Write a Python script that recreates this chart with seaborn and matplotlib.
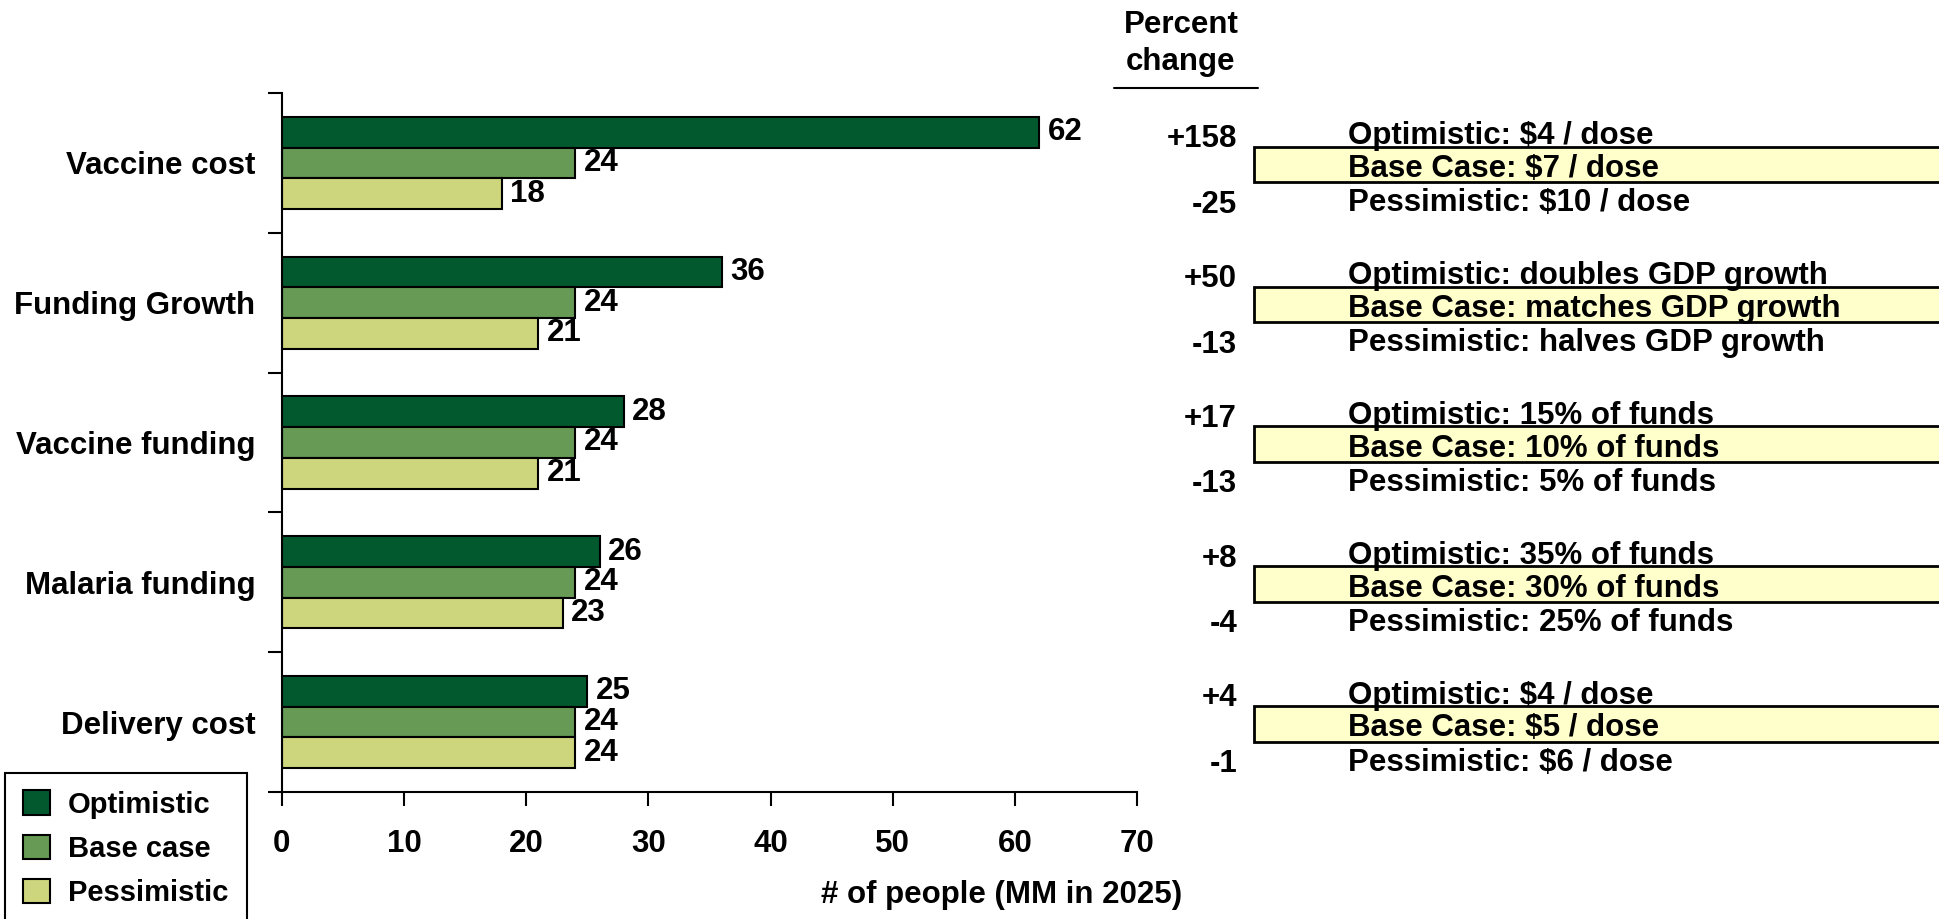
"""Sensitivity chart: people reached under optimistic / base / pessimistic scenarios."""

import matplotlib

matplotlib.use("Agg")

import matplotlib.pyplot as plt  # noqa: E402
import matplotlib.transforms as mtransforms  # noqa: E402
import pandas as pd  # noqa: E402
import seaborn as sns  # noqa: E402
from matplotlib.patches import Rectangle  # noqa: E402

factors = ["Vaccine cost", "Funding Growth", "Vaccine funding", "Malaria funding", "Delivery cost"]
scenarios = ["Optimistic", "Base case", "Pessimistic"]
optimistic = [62, 36, 28, 26, 25]
base_case = [24, 24, 24, 24, 24]
pessimistic = [18, 21, 21, 23, 24]
pct_up = ["+158", "+50", "+17", "+8", "+4"]
pct_down = ["-25", "-13", "-13", "-4", "-1"]
opt_desc = ["Optimistic: $4 / dose", "Optimistic: doubles GDP growth",
            "Optimistic: 15% of funds", "Optimistic: 35% of funds", "Optimistic: $4 / dose"]
base_desc = ["Base Case: $7 / dose", "Base Case: matches GDP growth",
             "Base Case: 10% of funds", "Base Case: 30% of funds", "Base Case: $5 / dose"]
pess_desc = ["Pessimistic: $10 / dose", "Pessimistic: halves GDP growth",
             "Pessimistic: 5% of funds", "Pessimistic: 25% of funds", "Pessimistic: $6 / dose"]
xticks = [0, 10, 20, 30, 40, 50, 60, 70]

colors = ["#03592e", "#669a55", "#cdd57d"]
FS = 22.5

sns.set_theme(style="white")
plt.rcParams["font.family"] = ["Liberation Sans", "DejaVu Sans"]
plt.rcParams.update({
    "font.weight": "bold",
    "text.color": "black",
    "axes.labelcolor": "black",
    "xtick.color": "black",
    "ytick.color": "black",
    "xtick.bottom": True,
    "ytick.left": True,
})

df = pd.DataFrame({
    "factor": factors * 3,
    "scenario": [s for s in scenarios for _ in factors],
    "value": optimistic + base_case + pessimistic,
})

fig = plt.figure(figsize=(19.39, 9.19), dpi=100)
ax = fig.add_axes([0.1454, 0.1382, 0.4410, 0.7606])

sns.barplot(data=df, y="factor", x="value", hue="scenario", orient="h",
            order=factors, hue_order=scenarios, palette=colors, width=0.66,
            edgecolor="black", linewidth=1.5, saturation=1, ax=ax)

for c in ax.containers:
    ax.bar_label(c, fmt="%d", padding=6, fontsize=FS, fontweight="bold")

ax.set_xlim(0, 70)
ax.set_ylim(4.5, -0.5)
ax.set_xticks(xticks)
ax.set_ylabel("")
ax.set_xlabel("# of people (MM in 2025)", fontsize=FS, fontweight="bold")
ax.xaxis.set_label_coords(0.842, -0.126)
ax.set_yticks([i - 0.5 for i in range(len(factors) + 1)], minor=True)
ax.tick_params(axis="y", which="major", left=False, length=0, pad=19, labelsize=FS)
ax.tick_params(axis="y", which="minor", left=True, length=10, width=1.5, direction="out")
ax.tick_params(axis="x", bottom=True, length=10, width=1.5, direction="out", pad=17, labelsize=FS)
for lab in ax.get_xticklabels() + ax.get_yticklabels():
    lab.set_fontweight("bold")
sns.despine(ax=ax)
for s in ("left", "bottom"):
    ax.spines[s].set_color("black")
    ax.spines[s].set_linewidth(1.5)

handles, labels = ax.get_legend_handles_labels()
ax.get_legend().remove()
leg = fig.legend(handles, labels, loc="upper left", bbox_to_anchor=(0.0026, 0.0, 0.125, 0.1589),
                 mode="expand", borderaxespad=0, frameon=True, fancybox=False,
                 edgecolor="black", framealpha=1,
                 prop={"size": 21, "weight": "bold"}, handlelength=0.95, handleheight=0.9,
                 labelspacing=0.55, handletextpad=0.6, borderpad=0.6)
leg.get_frame().set_linewidth(1.5)

# right-hand annotation panel
trans = mtransforms.blended_transform_factory(fig.transFigure, ax.transData)
for i in range(len(factors)):
    ax.text(0.638, i - 0.17, pct_up[i], transform=trans, ha="right", va="center",
            fontsize=FS, fontweight="bold")
    ax.text(0.638, i + 0.30, pct_down[i], transform=trans, ha="right", va="center",
            fontsize=FS, fontweight="bold")
    ax.add_patch(Rectangle((0.6465, i - 0.115), 0.40, 0.255, transform=trans,
                           facecolor="#ffffcc", edgecolor="black", linewidth=2,
                           clip_on=False, zorder=1))
    for dy, txt in zip((-0.19, 0.045, 0.29), (opt_desc[i], base_desc[i], pess_desc[i])):
        ax.text(0.695, i + dy, txt, transform=trans, ha="left", va="center",
                fontsize=FS, fontweight="bold", parse_math=False, zorder=2)

fig.text(0.609, 0.973, "Percent", ha="center", va="center", fontsize=FS, fontweight="bold")
fig.text(0.609, 0.932, "change", ha="center", va="center", fontsize=FS, fontweight="bold")
fig.add_artist(plt.Line2D([0.5745, 0.6488], [0.904, 0.904], color="black", linewidth=1.5))

fig.savefig("out.png", dpi=100)
